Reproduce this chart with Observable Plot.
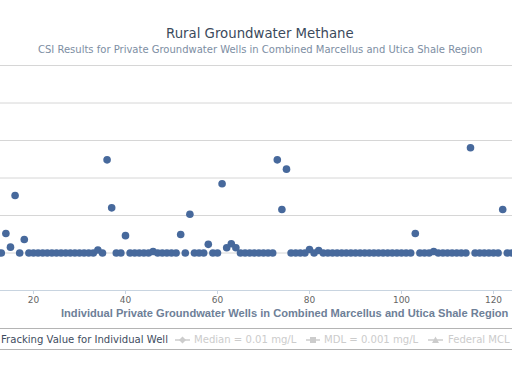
<!DOCTYPE html>
<html><head><meta charset="utf-8">
<script src="https://cdn.jsdelivr.net/npm/d3@7"></script>
<script src="https://cdn.jsdelivr.net/npm/@observablehq/plot@0.6"></script>
<style>
body{margin:0;background:#fff;}
#wrap{position:relative;width:512px;height:384px;overflow:hidden;font-family:"DejaVu Sans",Verdana,sans-serif;background:#fff;}
.t{position:absolute;white-space:nowrap;line-height:1;}
#plot{position:absolute;left:0;top:55px;}
#legendBox{position:absolute;left:-8px;width:526px;top:328px;height:20px;border:1px solid #b4b4b4;border-radius:5px;}
#sym{position:absolute;left:0;top:0;}
</style></head><body><div id="wrap">
<div class="t" id="title" style="color:#3b4a5c">Rural Groundwater Methane</div>
<div class="t" id="subtitle" style="color:#7d8ea3">CSI Results for Private Groundwater Wells in Combined Marcellus and Utica Shale Region</div>
<div id="plot"></div>
<div class="t" id="xtitle" style="color:#6e8098;font-weight:bold;font-family:'Liberation Sans',Arial,sans-serif">Individual Private Groundwater Wells in Combined Marcellus and Utica Shale Region</div>
<div id="legendBox"></div>
<div class="t" id="lg0" style="color:#3e4c5e">Fracking Value for Individual Well</div>
<div class="t" id="lg1" style="color:#cccccc">Median = 0.01 mg/L</div>
<div class="t" id="lg2" style="color:#cccccc">MDL = 0.001 mg/L</div>
<div class="t" id="lg3" style="color:#cccccc">Federal MCL</div>
<svg id="sym" width="512" height="384">
  <g stroke="#cccccc" fill="#cccccc" stroke-width="1.5">
    <line x1="175" x2="190" y1="340" y2="340"/>
    <path d="M182.5,336.5 L186,340 L182.5,343.5 L179,340 Z" stroke="none"/>
    <line x1="306" x2="320" y1="340" y2="340"/>
    <rect x="310" y="337" width="6" height="6" stroke="none"/>
    <line x1="428" x2="443" y1="340" y2="340"/>
    <path d="M435.5,336.5 L439,343 L432,343 Z" stroke="none"/>
  </g>
</svg>
</div>
<script>
// Well numbers (visible range) and methane values (mg/L)
const firstWell = 13;
const methane = [
  0.01, 0.033, 0.0143, 0.34, 0.01, 0.023,                 // 13-18
  0.01, 0.01, 0.01, 0.01, 0.01, 0.01, 0.01, 0.01,         // 19-26
  0.01, 0.01, 0.01, 0.01, 0.01, 0.01, 0.01,               // 27-33
  0.012, 0.01, 3.05, 0.16, 0.01, 0.01, 0.029,             // 34-40
  0.01, 0.01, 0.01, 0.01, 0.01, 0.011, 0.01, 0.01, 0.01, 0.01, 0.01, // 41-51
  0.031, 0.01, 0.108, 0.01, 0.01, 0.01, 0.017, 0.01, 0.01, // 52-60
  0.70, 0.0138, 0.0176, 0.0138,                           // 61-64
  0.01, 0.01, 0.01, 0.01, 0.01, 0.01, 0.01, 0.01,         // 65-72
  3.05, 0.145, 1.72,                                      // 73-75
  0.01, 0.01, 0.01, 0.01, 0.0124, 0.01, 0.0117,           // 76-82
  0.01, 0.01, 0.01, 0.01, 0.01, 0.01, 0.01, 0.01, 0.01, 0.01, // 83-92
  0.01, 0.01, 0.01, 0.01, 0.01, 0.01, 0.01, 0.01, 0.01, 0.01, // 93-102
  0.033, 0.01, 0.01, 0.01, 0.011, 0.01, 0.01, 0.01, 0.01, 0.01, 0.01, 0.01, // 103-114
  6.4, 0.01, 0.01, 0.01, 0.01, 0.01, 0.01, 0.145, 0.01, 0.01 // 115-124
];
const xTicks = [20, 40, 60, 80, 100, 120];
const yGrid = [0.01, 0.1, 1, 10, 100, 1000];
const yAxisLine = [0.001];

const data = methane.map((v, i) => ({well: firstWell + i, value: v}));

const chart = Plot.plot({
  width: 512,
  height: 270,
  marginTop: 10,
  marginBottom: 35,
  marginLeft: 0,
  marginRight: 0,
  style: {fontFamily: '"DejaVu Sans",Verdana,sans-serif', background: "transparent", overflow: "visible"},
  x: {domain: [12.83, 124.13], axis: null},
  y: {type: "log", domain: [0.001, 1000], axis: null},
  marks: [
    Plot.ruleY(yGrid, {stroke: "#d6d6d6", strokeWidth: 1}),
    Plot.ruleY(yAxisLine, {stroke: "#c8d4e0", strokeWidth: 1}),
    Plot.axisX({ticks: xTicks, tickSize: 4, tickPadding: 2, fontSize: 9, color: "#666", stroke: "#c8d4e0", label: null, tickFormat: d => String(d)}),
    Plot.dot(data, {x: "well", y: "value", r: 3.8, fill: "#47699c", stroke: "none"})
  ]
});
document.getElementById("plot").appendChild(chart);

function place(id, left, width, cy) {
  const el = document.getElementById(id);
  el.style.left = left + "px";
  el.style.fontSize = "10px";
  const w = el.getBoundingClientRect().width;
  const fs = 10 * width / w;
  el.style.fontSize = fs + "px";
  el.style.top = (cy - fs / 2) + "px";
  return fs;
}
function placeAt(id, left, fs, cy) {
  const el = document.getElementById(id);
  el.style.left = left + "px";
  el.style.fontSize = fs + "px";
  el.style.top = (cy - fs / 2) + "px";
}
place("title", 166, 188, 34);
place("subtitle", 38, 445, 50.5);
place("xtitle", 61, 448, 313.5);
const lfs = place("lg0", 1, 167, 340);
placeAt("lg1", 194, lfs, 340);
placeAt("lg2", 324, lfs, 340);
placeAt("lg3", 448, lfs, 340);
</script>
</body></html>
